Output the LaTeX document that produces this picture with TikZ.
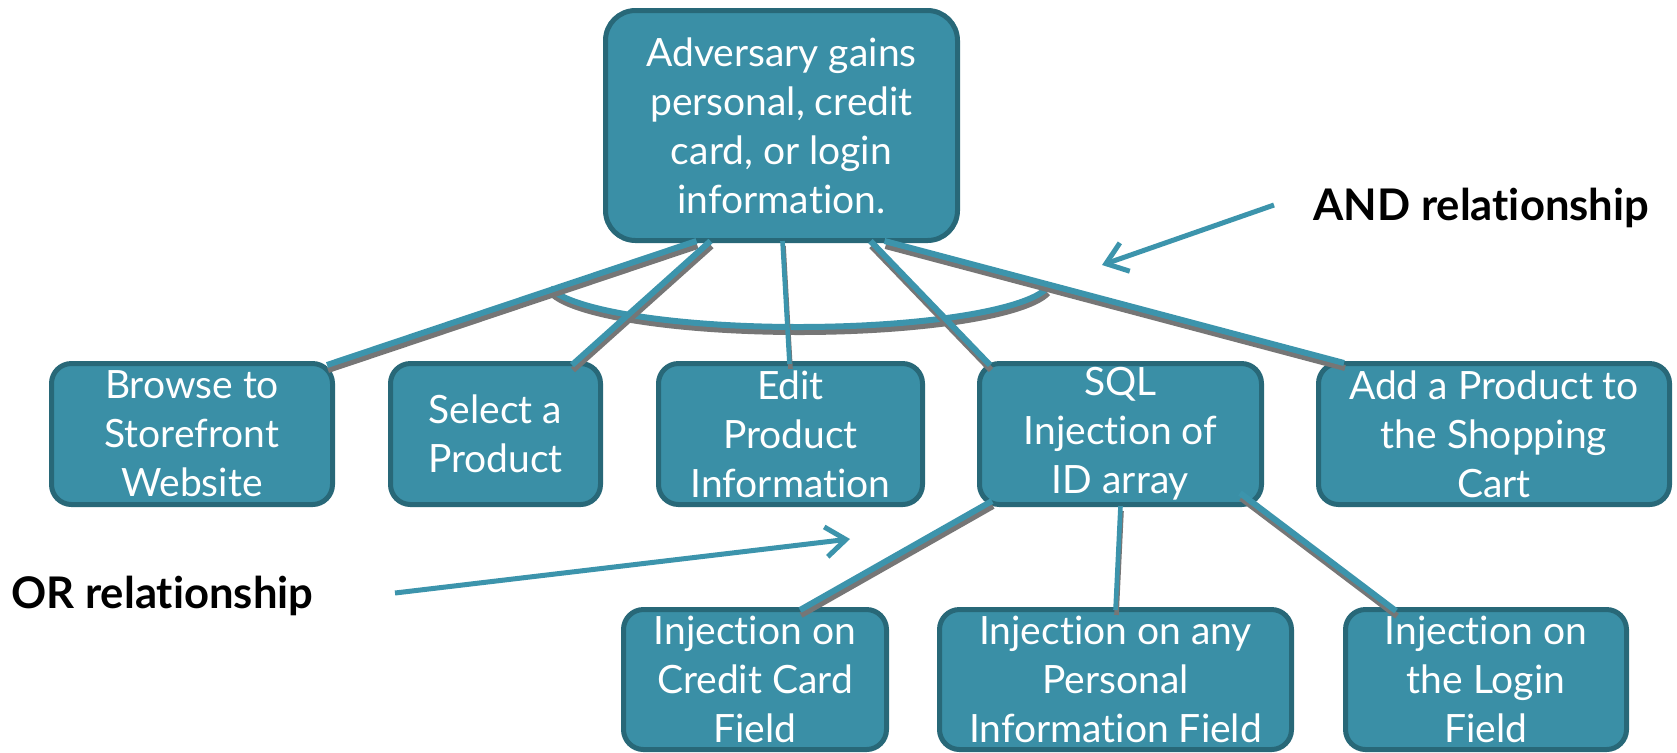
\documentclass[tikz,border=0pt]{standalone}
\usepackage{fontspec}
\setmainfont{Lato}[Ligatures=NoCommon]
\usetikzlibrary{arrows.meta,calc}
\definecolor{tealfill}{HTML}{3A8FA6}
\definecolor{tealedge}{HTML}{286878}
\definecolor{tealline}{HTML}{3C94AC}
\definecolor{shade}{HTML}{767676}

\begin{document}
\begin{tikzpicture}[x=0.5pt,y=-0.5pt,
  card/.style={draw=tealedge, fill=tealfill, line width=2.5pt,
    rounded corners=10pt, text=white, align=center, inner sep=0pt,
    minimum height=70.5pt, font=\fontsize{19.5}{24.5}\selectfont},
  shadowed/.style={preaction={draw=shade, line width=#1,
    transform canvas={shift={(0.5pt,-2.5pt)}}}},
  link/.style={draw=tealline, line width=3pt, shadowed=3pt},
  thinlink/.style={draw=tealline, line width=2.3pt, shadowed=2.3pt},
  pointer/.style={draw=tealline, line width=2.5pt,
    -{Straight Barb[length=10pt,width=15pt]}},
  tag/.style={inner sep=0pt, text=black,
    font=\fontsize{21.8}{26}\selectfont\bfseries}
]
\fill[white] (0,0) rectangle (1677,752);
\useasboundingbox (0,0) rectangle (1677,752);

% goal and its five steps
\node[card, rounded corners=15pt, minimum width=176pt, minimum height=115pt]
  (goal) at (781.5,125.5) {Adversary gains\\personal, credit\\card, or login\\information.};
\node[card, minimum width=140.5pt] (browse) at (192,434) {Browse to\\Storefront\\Website};
\node[card, minimum width=105pt] (select) at (495.5,434) {Select a\\Product};
\node[card, minimum width=132pt] (edit) at (790.5,434) {Edit\\Product\\Information};
\node[card, minimum width=141pt] (sql) at (1120.5,434) {SQL\\Injection of\\ID array};
\node[card, minimum width=175.5pt] (cart) at (1494,434) {Add a Product to\\the Shopping\\Cart};

% alternatives under the injection step
\node[card, minimum width=131.5pt, minimum height=70pt] (ccard) at (755,679.5) {Injection on\\Credit Card\\Field};
\node[card, minimum width=176pt, minimum height=70pt] (pinfo) at (1115.5,679.5) {Injection on any\\Personal\\Information Field};
\node[card, minimum width=140.5pt, minimum height=70pt] (login) at (1486,679.5) {Injection on\\the Login\\Field};

% AND arc joining the goal's branches
\draw[link] plot[domain=190:350, samples=60, smooth, variable=\t]
  ({798.5+252.3*cos(\t)}, {279.8-47.2*sin(\t)});

% goal branches
\draw[link] ($(goal.south)+(-85,-2)$) -- ($(browse.north east)+(-8,4)$);
\draw[link] ($(goal.south)+(-71,-2)$) -- ($(select.north east)+(-31,4)$);
\draw[thinlink] ($(goal.south)+(1,-2)$) -- ($(edit.north)+(-1,3)$);
\draw[link] ($(goal.south)+(89,-2)$) -- ($(sql.north west)+(13,4)$);
\draw[link] ($(goal.south)+(103,-2)$) -- ($(cart.north west)+(28,2)$);

% injection alternatives
\draw[link] ($(sql.south west)+(15,-6)$) -- ($(ccard.north)+(45,3)$);
\draw[thinlink] ($(sql.south)+(0,-1)$) -- ($(pinfo.north)+(0,3)$);
\draw[link] ($(sql.south east)+(-24,-14)$) -- ($(login.north west)+(53,4)$);

% legend labels and pointers
\node[tag, anchor=base west] (andtag) at (1313,220) {AND relationship};
\node[tag, anchor=base west] (ortag) at (11,608) {OR relationship};
\coordinate (andtip) at (1102,265);
\coordinate (ortail) at (395,593);
\coordinate (ortip) at (850,539);
\draw[pointer] ($(andtag.base west)+(-39,-15)$) -- (andtip);
\draw[pointer] (ortail) -- (ortip);
\end{tikzpicture}
\end{document}
